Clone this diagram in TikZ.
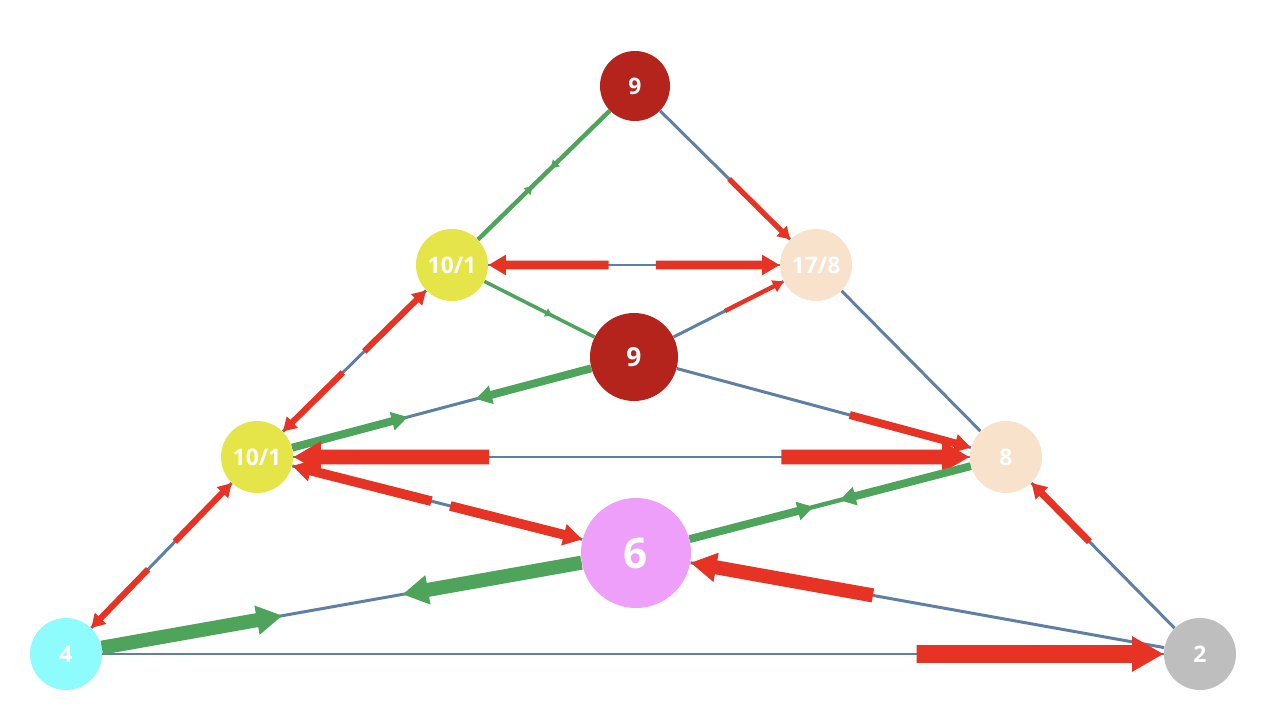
\documentclass[tikz,border=0pt]{standalone}
\usepackage{fontspec}
\setsansfont{Open Sans}
\usetikzlibrary{calc,arrows.meta,backgrounds}

\definecolor{darkred}{HTML}{B5241C}
\definecolor{lemon}{HTML}{E5E54A}
\definecolor{peach}{HTML}{F8E2CC}
\definecolor{orchid}{HTML}{EE9FF9}
\definecolor{aqua}{HTML}{8EFCFD}
\definecolor{stone}{HTML}{BEBEBE}
\definecolor{edgeblue}{HTML}{5F7FA3}
\definecolor{flowred}{HTML}{E63324}
\definecolor{flowgreen}{HTML}{4EA45A}

\begin{document}
\begin{tikzpicture}[%
	state/.style={
		circle,
		draw=none,
		minimum size=1.44cm,
		inner sep=0pt,
		text=white,
		font=\sffamily\bfseries\fontsize{13}{13}\selectfont
	},
	base/.style={edgeblue, line width=1.7pt},
	redflow/.style={flowred, line width=#1, -{Triangle[length=1.6*#1+2pt, width=1.6*#1+3pt]}},
	greenflow/.style={flowgreen, line width=#1, -{Triangle[length=1.6*#1+2pt, width=1.6*#1+3pt]}},
]
	\useasboundingbox (0,0) rectangle (25.36,14.28);
	\node[state, fill=darkred, minimum size=1.4cm] (top) at (12.70,12.56) {9};
	\node[state, fill=lemon] (ul) at (9.04,8.98) {10/1};
	\node[state, fill=peach] (ur) at (16.32,8.98) {17/8};
	\node[state, fill=darkred, minimum size=1.76cm, font=\sffamily\bfseries\fontsize{15}{15}\selectfont] (mid) at (12.68,7.14) {9};
	\node[state, fill=lemon] (ml) at (5.14,5.14) {10/1};
	\node[state, fill=peach] (mr) at (20.12,5.14) {8};
	\node[state, fill=orchid, minimum size=2.2cm, font=\sffamily\bfseries\fontsize{24}{24}\selectfont] (low) at (12.72,3.22) {6};
	\node[state, fill=aqua] (bl) at (1.32,1.20) {4};
	\node[state, fill=stone] (br) at (24.00,1.20) {2};
	\begin{pgfonlayer}{background}
		% base edges
		\draw[flowgreen, line width=2.5pt] (top) -- (ul);
		\draw[base] (top) -- (ur);
		\draw[base] (ul) -- (ur);
		\draw[flowgreen, line width=2pt] (ul) -- (mid);
		\draw[base] (mid) -- (ur);
		\draw[base] (ul) -- (ml);
		\draw[base] (mid) -- (ml);
		\draw[base] (mid) -- (mr);
		\draw[base] (ur) -- (mr);
		\draw[base] (ml) -- (mr);
		\draw[base] (ml) -- (low);
		\draw[flowgreen, line width=2.5pt] (low) -- (mr);
		\draw[base] (bl) -- (low);
		\draw[base] (br) -- (low);
		\draw[base] (br) -- (mr);
		\draw[base] (bl) -- (br);
		\draw[base] (bl) -- (ml);
		% flows
		\draw[greenflow=1.5pt] (ul) -- ($(ul)!0.44!(top)$);
		\draw[greenflow=1.5pt] (top) -- ($(top)!0.46!(ul)$);
		\draw[redflow=3pt] ($(top)!0.52!(ur)$) -- (ur);
		\draw[redflow=5pt] ($(ur)!0.57!(ul)$) -- (ul);
		\draw[redflow=5pt] ($(ul)!0.56!(ur)$) -- (ur);
		\draw[greenflow=1.2pt] (ul) -- ($(ul)!0.55!(mid)$);
		\draw[redflow=2.5pt] ($(mid)!0.5!(ur)$) -- (ur);
		\draw[redflow=3.5pt] ($(ml)!0.55!(ul)$) -- (ul);
		\draw[redflow=3.5pt] ($(ul)!0.56!(ml)$) -- (ml);
		\draw[greenflow=4.5pt] (ml) -- ($(ml)!0.4!(mid)$);
		\draw[greenflow=4.5pt] (mid) -- ($(mid)!0.42!(ml)$);
		\draw[redflow=4.5pt] ($(mid)!0.58!(mr)$) -- (mr);
		\draw[redflow=8.5pt] ($(mr)!0.69!(ml)$) -- (ml);
		\draw[redflow=8.5pt] ($(ml)!0.70!(mr)$) -- (mr);
		\draw[redflow=5.5pt] ($(low)!0.54!(ml)$) -- (ml);
		\draw[redflow=5.5pt] ($(ml)!0.51!(low)$) -- (low);
		\draw[greenflow=4.5pt] (low) -- ($(low)!0.48!(mr)$);
		\draw[greenflow=4.5pt] (mr) -- ($(mr)!0.45!(low)$);
		\draw[greenflow=8pt] (bl) -- ($(bl)!0.38!(low)$);
		\draw[greenflow=8pt] (low) -- ($(low)!0.41!(bl)$);
		\draw[redflow=8pt] ($(br)!0.58!(low)$) -- (low);
		\draw[redflow=4pt] ($(br)!0.57!(mr)$) -- (mr);
		\draw[redflow=10pt] ($(bl)!0.75!(br)$) -- (br);
		\draw[redflow=3.5pt] ($(bl)!0.57!(ml)$) -- (ml);
		\draw[redflow=3.5pt] ($(ml)!0.57!(bl)$) -- (bl);
	\end{pgfonlayer}
\end{tikzpicture}
\end{document}
